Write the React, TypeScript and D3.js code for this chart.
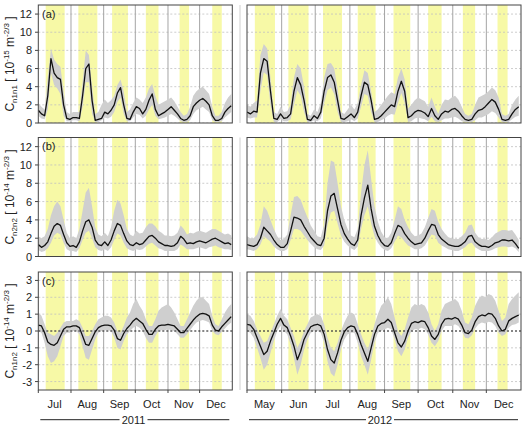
import React from "react";
import * as d3 from "d3";

// ---------- data ----------
const STEP_DAYS = 3;
const start2011 = new Date(2011, 6, 1);
const end2011 = new Date(2012, 0, 1);
const start2012 = new Date(2012, 4, 1);
const end2012 = new Date(2013, 0, 1);

const yearLabels = ["2011", "2012"];
const ticksAB = [0, 2, 4, 6, 8, 10, 12];
const ticksC = [-3, -2, -1, 0, 1, 2, 3];

// highlighted (yellow) periods
const bands2011: [string, string][] = [
  ["2011-07-08", "2011-07-26"], ["2011-08-08", "2011-08-26"], ["2011-09-09", "2011-09-24"],
  ["2011-10-11", "2011-10-23"], ["2011-11-12", "2011-11-21"], ["2011-12-13", "2011-12-22"],
];
const bands2012: [string, string][] = [
  ["2012-05-08", "2012-05-26"], ["2012-06-07", "2012-06-25"], ["2012-07-08", "2012-07-25"],
  ["2012-08-08", "2012-08-24"], ["2012-09-09", "2012-09-24"], ["2012-10-10", "2012-10-22"],
  ["2012-11-10", "2012-11-21"], ["2012-12-11", "2012-12-20"],
];

// (a) C_n1n1, 2011
const aLine2011 = [1.4,1.0,0.8,3.0,7.1,5.5,5.0,4.8,2.0,0.5, 0.4,0.6,0.6,0.5,3.0,6.0,6.5,2.5,0.3,0.4, 0.5,1.2,1.0,1.4,2.0,3.3,3.9,2.0,0.5,0.4, 1.2,1.8,1.6,1.0,1.5,2.5,3.2,1.5,0.8,1.0, 1.2,1.5,1.8,1.4,1.0,0.5,0.3,0.4,0.8,1.8, 2.2,2.5,2.7,2.4,2.0,0.8,0.3,0.3,0.5,1.2, 1.6,1.9];
const aUp2011 = [2.2,1.8,1.5,5.0,8.2,7.0,6.5,6.2,3.5,1.2, 1.0,1.2,1.2,1.2,4.5,8.0,7.5,4.0,1.0,1.2, 2.0,2.6,2.2,2.5,3.0,4.2,4.8,3.5,1.2,1.5, 2.2,2.8,2.6,2.2,2.8,3.8,4.3,3.0,2.0,2.2, 2.4,2.6,2.8,2.4,1.8,1.2,0.8,1.0,1.8,3.0, 3.5,3.8,4.0,3.6,3.2,1.8,0.8,0.8,1.2,2.2, 2.8,3.2];
const aLo2011 = [0.8,0.5,0.4,1.5,5.5,4.2,3.8,3.2,0.8,0.2, 0.2,0.3,0.3,0.2,1.8,4.5,4.5,1.0,0.1,0.1, 0.3,0.6,0.5,0.7,1.2,2.3,2.8,1.0,0.2,0.2, 0.6,1.0,0.9,0.5,0.8,1.5,2.0,0.8,0.4,0.5, 0.6,0.8,1.0,0.8,0.5,0.2,0.1,0.1,0.3,1.0, 1.4,1.6,1.8,1.5,1.2,0.3,0.1,0.1,0.2,0.6, 0.9,1.2];
// (a) C_n1n1, 2012
const aLine2012 = [1.2,1.0,1.3,1.2,5.5,7.1,6.8,3.5,0.5,0.4, 1.0,0.5,0.6,1.0,3.5,5.0,4.2,2.5,0.4,0.3, 0.8,0.5,1.2,3.5,5.0,5.3,4.5,2.5,0.5,0.4, 0.7,1.0,0.6,1.2,3.0,4.5,4.2,2.5,0.4,0.5, 0.8,1.2,1.6,2.0,1.8,3.5,4.6,3.5,0.6,0.8, 1.2,1.4,1.3,1.1,0.7,1.6,0.8,0.4,1.0,1.3, 1.2,1.5,1.6,1.3,0.8,0.4,0.3,0.4,1.0,1.4, 1.5,1.8,2.2,2.6,2.3,1.5,0.4,0.3,0.4,1.0, 1.5,1.8];
const aUp2012 = [2.0,1.8,2.2,2.5,7.5,8.7,8.2,5.0,1.2,1.0, 1.8,1.2,1.3,2.0,5.0,6.5,6.0,4.0,1.0,0.8, 1.5,1.2,2.2,5.0,6.5,6.6,6.0,3.8,1.2,1.0, 1.5,2.0,1.5,2.2,4.2,5.8,5.5,3.5,1.2,1.5, 2.0,2.5,3.0,3.4,3.2,5.0,6.0,4.8,1.6,2.0, 2.5,2.8,2.6,2.4,1.8,2.8,1.8,1.0,2.0,2.6, 2.5,2.8,3.0,2.6,1.8,1.0,0.8,1.0,2.0,2.8, 3.0,3.2,3.5,3.9,3.6,2.8,1.0,0.8,1.0,2.0, 2.6,3.0];
const aLo2012 = [0.6,0.5,0.6,0.6,3.5,5.6,5.3,2.0,0.1,0.1, 0.4,0.2,0.2,0.4,2.0,3.6,3.0,1.2,0.1,0.1, 0.3,0.2,0.5,2.2,3.6,3.9,3.2,1.2,0.1,0.1, 0.2,0.4,0.2,0.5,1.8,3.2,3.0,1.2,0.1,0.1, 0.3,0.5,0.8,1.0,0.9,2.2,3.3,2.2,0.1,0.2, 0.5,0.6,0.5,0.4,0.2,0.7,0.2,0.1,0.3,0.5, 0.5,0.6,0.7,0.5,0.2,0.1,0.1,0.1,0.3,0.6, 0.6,0.8,1.0,1.3,1.1,0.6,0.1,0.1,0.1,0.4, 0.7,0.8];

// (b) C_n2n2, 2011
const bLine2011 = [1.3,1.0,1.2,1.6,2.5,3.3,3.6,3.4,2.4,1.5, 1.1,1.2,1.0,1.6,2.8,3.8,4.0,3.2,1.8,1.3, 1.2,1.6,1.2,1.8,2.8,3.6,3.4,2.5,1.7,1.3, 1.2,1.5,1.3,1.4,1.8,2.2,2.3,2.0,1.6,1.4, 1.2,1.2,1.1,1.2,1.5,2.2,1.9,1.4,1.5,1.4, 1.6,1.7,1.6,1.5,1.7,1.9,2.0,1.8,1.6,1.4, 1.5,1.3];
const bUp2011 = [2.2,2.0,2.2,3.0,4.5,5.5,6.0,5.5,4.0,2.6, 2.0,2.2,2.0,3.0,5.0,7.0,7.5,5.5,3.2,2.4, 2.2,2.6,2.2,3.2,5.0,6.2,5.8,4.5,3.0,2.4, 2.2,2.8,2.5,2.6,3.2,3.6,3.6,3.3,2.8,2.6, 2.3,2.3,2.2,2.3,2.6,3.4,3.0,2.4,2.6,2.5, 2.7,2.8,2.7,2.6,2.8,3.0,3.0,2.8,2.6,2.4, 2.5,2.3];
const bLo2011 = [0.7,0.5,0.6,0.9,1.5,2.3,2.6,2.4,1.5,0.8, 0.6,0.6,0.5,0.9,1.8,2.6,2.8,2.0,1.0,0.7, 0.6,0.8,0.6,1.0,1.8,2.5,2.3,1.5,0.9,0.7, 0.6,0.8,0.7,0.8,1.1,1.4,1.5,1.2,0.9,0.8, 0.6,0.6,0.6,0.6,0.8,1.3,1.1,0.8,0.8,0.8, 0.9,1.0,0.9,0.8,1.0,1.1,1.2,1.0,0.9,0.8, 0.8,0.7];
// (b) C_n2n2, 2012
const bLine2012 = [1.3,1.2,1.1,1.3,2.0,3.2,2.8,2.4,1.8,1.3, 1.0,1.0,1.4,2.8,4.3,4.2,4.0,3.3,2.7,2.1, 1.7,1.3,1.2,2.0,5.0,6.6,6.9,5.2,3.5,2.5, 1.9,1.4,1.2,1.8,4.5,6.4,7.8,5.2,3.3,2.3, 1.6,1.2,1.1,1.5,2.5,3.4,3.2,2.5,2.0,1.6, 1.3,1.4,1.5,2.0,2.8,3.5,3.4,2.4,1.9,1.6, 1.3,1.2,1.1,1.1,1.3,1.6,2.2,2.3,1.6,1.3, 1.1,1.1,1.0,1.2,1.5,1.6,1.8,1.8,1.7,1.8, 1.4,0.9];
const bUp2012 = [2.2,2.0,2.0,2.4,3.5,5.5,5.0,4.0,3.0,2.2, 1.8,1.9,2.4,4.5,6.5,6.6,6.2,5.2,4.3,3.4, 2.8,2.2,2.1,3.5,8.0,10.5,10.3,8.0,5.5,4.0, 3.0,2.3,2.1,3.0,7.0,10.0,11.6,8.5,5.5,3.8, 2.7,2.1,2.0,2.6,4.0,5.5,5.2,4.0,3.2,2.6, 2.2,2.3,2.5,3.2,4.2,5.2,5.0,3.8,3.0,2.5, 2.1,2.0,1.9,1.9,2.2,2.6,3.4,3.5,2.6,2.1, 1.9,1.9,1.8,2.1,2.5,2.7,2.9,2.9,2.8,2.9, 2.4,1.8];
const bLo2012 = [0.8,0.7,0.6,0.8,1.3,2.2,1.9,1.6,1.1,0.8, 0.6,0.6,0.8,1.8,3.0,3.0,2.8,2.3,1.8,1.4, 1.0,0.8,0.7,1.2,3.5,4.8,5.0,3.6,2.3,1.6, 1.2,0.9,0.7,1.1,3.0,4.5,5.5,3.6,2.2,1.5, 1.0,0.7,0.6,0.9,1.6,2.3,2.1,1.6,1.2,1.0, 0.8,0.8,0.9,1.2,1.8,2.4,2.3,1.5,1.2,1.0, 0.8,0.7,0.6,0.6,0.8,1.0,1.4,1.5,1.0,0.8, 0.6,0.6,0.6,0.7,0.9,1.0,1.1,1.1,1.0,1.1, 0.9,0.5];

// (c) C_n1n2, 2011
const cLine2011 = [0.35,0.3,-0.1,-0.65,-0.8,-0.85,-0.7,-0.3,0.1,0.25, 0.25,0.3,0.3,0.2,-0.3,-0.8,-0.85,-0.45,-0.05,0.2, 0.3,0.35,0.35,0.3,0.05,-0.45,-0.55,-0.15,0.15,0.35, 0.6,0.75,0.6,0.45,0.1,-0.2,-0.2,0.1,0.3,0.35, 0.35,0.4,0.35,0.3,0.1,-0.1,-0.1,0.15,0.4,0.65, 0.85,1.0,1.05,1.0,0.9,0.35,0.05,0.0,0.25,0.45, 0.65,0.85];
const cUp2011 = [1.1,0.9,0.4,-0.1,-0.2,-0.3,-0.1,0.2,0.5,0.6, 0.6,0.6,0.7,0.6,0.2,-0.3,-0.3,0.0,0.4,0.7, 0.8,0.9,0.9,0.8,0.5,0.0,-0.1,0.3,0.8,1.1, 1.6,1.9,1.5,1.2,0.7,0.3,0.3,0.7,1.2,1.4, 1.5,1.6,1.4,1.1,0.7,0.3,0.3,0.7,1.1,1.5, 1.8,2.0,2.0,1.8,1.6,0.9,0.4,0.3,0.7,1.1, 1.4,1.6];
const cLo2011 = [0.0,-0.1,-0.7,-1.5,-1.9,-1.8,-1.5,-0.9,-0.3,-0.1, -0.1,0.0,0.0,-0.2,-0.9,-1.6,-1.7,-1.1,-0.5,-0.1, 0.0,0.05,0.05,0.0,-0.4,-1.0,-1.1,-0.6,-0.2,0.0, 0.2,0.3,0.2,0.0,-0.4,-0.7,-0.7,-0.3,0.0,0.05, 0.05,0.1,0.05,0.0,-0.2,-0.4,-0.4,-0.2,0.05,0.3, 0.5,0.6,0.65,0.6,0.5,0.0,-0.2,-0.25,-0.05,0.15, 0.35,0.5];
// (c) C_n1n2, 2012
const cLine2012 = [0.4,0.35,0.1,-0.4,-0.9,-1.4,-1.2,-0.6,-0.1,0.4, 0.75,0.35,0.2,-0.3,-0.9,-1.7,-1.2,-0.5,-0.1,0.25, 0.35,0.4,0.3,-0.2,-1.1,-1.7,-1.9,-1.3,-0.55,-0.05, 0.2,0.3,0.25,-0.2,-0.8,-1.3,-1.8,-1.0,-0.2,0.3, 0.45,0.5,0.7,0.5,-0.1,-0.7,-0.95,-0.6,0.0,0.45, 0.55,0.5,0.6,0.55,0.2,-0.3,-0.5,-0.2,0.4,0.7, 0.75,0.7,0.8,0.7,0.35,-0.1,-0.15,0.05,0.55,0.85, 0.95,0.9,1.05,1.0,0.75,0.3,0.0,0.1,0.6,0.75, 0.85,0.95];
const cUp2012 = [1.0,0.9,0.6,0.1,-0.3,-0.7,-0.6,-0.1,0.4,0.9, 1.3,0.9,0.7,0.2,-0.3,-1.0,-0.6,0.0,0.4,0.8, 0.9,1.0,0.9,0.4,-0.4,-1.0,-1.2,-0.7,0.0,0.5, 0.9,1.1,1.0,0.4,-0.2,-0.7,-1.1,-0.4,0.4,1.0, 1.5,1.7,2.0,1.6,0.8,0.0,-0.3,0.1,0.8,1.4, 1.6,1.5,1.6,1.5,1.1,0.4,0.0,0.4,1.2,1.6, 1.7,1.8,1.9,1.7,1.2,0.5,0.4,0.8,1.5,1.9, 2.1,2.0,2.2,2.1,1.8,1.2,0.6,0.8,1.6,1.9, 2.1,2.3];
const cLo2012 = [0.0,-0.1,-0.4,-1.0,-1.6,-2.3,-2.0,-1.3,-0.6,0.0, 0.3,0.0,-0.2,-0.8,-1.6,-2.6,-2.0,-1.1,-0.5,-0.1, 0.0,0.0,-0.1,-0.7,-1.8,-2.5,-2.7,-2.0,-1.1,-0.5, -0.2,-0.1,-0.1,-0.7,-1.5,-2.0,-2.6,-1.7,-0.7,-0.1, 0.0,0.1,0.2,0.1,-0.5,-1.2,-1.5,-1.1,-0.4,0.0, 0.1,0.1,0.2,0.1,-0.2,-0.7,-0.9,-0.6,0.0,0.3, 0.3,0.3,0.4,0.3,0.0,-0.4,-0.45,-0.25,0.15,0.4, 0.5,0.45,0.55,0.5,0.3,-0.1,-0.3,-0.2,0.2,0.35, 0.4,0.5];

// ---------- layout ----------
const W = 525, H = 426;
const FONT = "'Liberation Sans', Arial, Helvetica, sans-serif";
const YELLOW = "#f7f9a6";
const BAND = "#cfcfcf";

const xL = d3.scaleTime().domain([start2011, end2011]).range([38.3, 232.3]);
const xR = d3.scaleTime().domain([start2012, end2012]).range([247, 521]);

type Row = {
  id: string; top: number; bottom: number; domain: [number, number]; ticks: number[];
  sub: string; exp: string; zero: boolean;
  L: number[][]; R: number[][];
};

const rows: Row[] = [
  { id: "(a)", top: 5, bottom: 123, domain: [0, 13], ticks: ticksAB, sub: "n1n1", exp: "-15", zero: false,
    L: [aLine2011, aUp2011, aLo2011], R: [aLine2012, aUp2012, aLo2012] },
  { id: "(b)", top: 137.5, bottom: 256.5, domain: [0, 13], ticks: ticksAB, sub: "n2n2", exp: "-14", zero: false,
    L: [bLine2011, bUp2011, bLo2011], R: [bLine2012, bUp2012, bLo2012] },
  { id: "(c)", top: 272, bottom: 390, domain: [-3.5, 3.5], ticks: ticksC, sub: "n1n2", exp: "-14", zero: true,
    L: [cLine2011, cUp2011, cLo2011], R: [cLine2012, cUp2012, cLo2012] },
];

const parse = d3.timeParse("%Y-%m-%d");
const fmtMonth = d3.timeFormat("%b");

function Half({ row, x, start, end, bands, series, idx }: any) {
  const y = d3.scaleLinear().domain(row.domain).range([row.bottom, row.top]);
  const [line, up, lo] = series as number[][];
  const dates = line.map((_: number, i: number) => d3.timeDay.offset(start, i * STEP_DAYS));
  const pts = line.map((v: number, i: number) => ({ d: dates[i], v, u: up[i], l: lo[i] }));
  const lineGen = d3.line<any>().x((p) => x(p.d)).y((p) => y(p.v));
  const areaGen = d3.area<any>().x((p) => x(p.d)).y0((p) => y(p.l)).y1((p) => y(p.u));
  const [x0, x1] = x.range();
  const months = d3.timeMonth.range(d3.timeMonth.offset(start, 1), end);
  const clipId = `clip-${row.id.replace(/[()]/g, "")}-${idx}`;
  return (
    <g>
      <defs>
        <clipPath id={clipId}>
          <rect x={x0} y={row.top} width={x1 - x0} height={row.bottom - row.top} />
        </clipPath>
      </defs>
      <g clipPath={`url(#${clipId})`}>
        {bands.map((b: [string, string], i: number) => {
          const bx0 = x(parse(b[0])!), bx1 = x(parse(b[1])!);
          return <rect key={i} x={bx0} y={row.top} width={bx1 - bx0} height={row.bottom - row.top} fill={YELLOW} />;
        })}
        {row.ticks.map((t: number) => (
          <line key={t} x1={x0} x2={x1} y1={y(t)} y2={y(t)} stroke="#c0c0c0" strokeWidth={0.8} strokeDasharray="2,2" />
        ))}
        {months.map((m: Date, i: number) => (
          <line key={i} x1={x(m)} x2={x(m)} y1={row.top} y2={row.bottom} stroke="#a4a4a4" strokeWidth={1} />
        ))}
        <path d={areaGen(pts)!} fill={BAND} />
        {row.zero && (
          <line x1={x0} x2={x1} y1={y(0)} y2={y(0)} stroke="#111" strokeWidth={0.9} strokeDasharray="2,2" />
        )}
        <path d={lineGen(pts)!} fill="none" stroke="#111" strokeWidth={1.3} strokeLinejoin="round" />
      </g>
      <rect x={x0} y={row.top} width={x1 - x0} height={row.bottom - row.top} fill="none" stroke="#444" strokeWidth={1} />
    </g>
  );
}

function YTitle({ cx, cy, sub, exp }: { cx: number; cy: number; sub: string; exp: string }) {
  return (
    <text transform={`translate(${cx},${cy}) rotate(-90)`} textAnchor="middle" fontSize={12} fill="#222" fontFamily={FONT}>
      <tspan>C</tspan>
      <tspan fontSize={8} dy={2.5}>{sub}</tspan>
      <tspan dy={-2.5}>{" [ 10"}</tspan>
      <tspan fontSize={8} dy={-5.5}>{exp}</tspan>
      <tspan dy={5.5}>{" m"}</tspan>
      <tspan fontSize={8} dy={-5.5}>{"-2/3"}</tspan>
      <tspan dy={5.5}>{" ]"}</tspan>
    </text>
  );
}

function MonthAxis({ x, start, end, yearLabel, labelCx }: any) {
  const months = d3.timeMonth.range(start, end);
  const [x0, x1] = x.range();
  const yl = 419.7;
  return (
    <g fontFamily={FONT} fill="#222">
      {months.map((m: Date, i: number) => {
        const mid = new Date((m.getTime() + d3.timeMonth.offset(m, 1).getTime()) / 2);
        return (
          <g key={i}>
            <line x1={x(m)} x2={x(m)} y1={390} y2={393} stroke="#444" />
            <text x={x(mid)} y={408} textAnchor="middle" fontSize={11}>{fmtMonth(m)}</text>
          </g>
        );
      })}
      <line x1={x0 + 2} x2={labelCx - 14} y1={yl} y2={yl} stroke="#222" strokeWidth={1} />
      <line x1={labelCx + 14} x2={x1 - 3} y1={yl} y2={yl} stroke="#222" strokeWidth={1} />
      <text x={labelCx} y={423.5} textAnchor="middle" fontSize={11}>{yearLabel}</text>
    </g>
  );
}

export default function App() {
  return (
    <div style={{ position: "absolute", left: 0, top: 0 }}>
      <svg width={W} height={H} style={{ display: "block", background: "#fff" }}>
        <rect width={W} height={H} fill="#fff" />
        {rows.map((row) => {
          const y = d3.scaleLinear().domain(row.domain).range([row.bottom, row.top]);
          return (
            <g key={row.id}>
              <line x1={240} x2={240} y1={row.top} y2={row.bottom} stroke="#cfcfcf" strokeWidth={1} />
              <Half row={row} x={xL} start={start2011} end={end2011} bands={bands2011} series={row.L} idx={0} />
              <Half row={row} x={xR} start={start2012} end={end2012} bands={bands2012} series={row.R} idx={1} />
              {row.ticks.map((t) => (
                <g key={t}>
                  <line x1={35} x2={38.3} y1={y(t)} y2={y(t)} stroke="#444" />
                  <text x={32} y={y(t) + 4} textAnchor="end" fontSize={11} fontFamily={FONT} fill="#222">{t}</text>
                </g>
              ))}
              <text x={42} y={row.top + 12.5} fontSize={11} fontFamily={FONT} fill="#222">{row.id}</text>
              <YTitle cx={14} cy={(row.top + row.bottom) / 2} sub={row.sub} exp={row.exp} />
            </g>
          );
        })}
        <MonthAxis x={xL} start={start2011} end={end2011} yearLabel={yearLabels[0]} labelCx={133.5} />
        <MonthAxis x={xR} start={start2012} end={end2012} yearLabel={yearLabels[1]} labelCx={380} />
      </svg>
    </div>
  );
}
